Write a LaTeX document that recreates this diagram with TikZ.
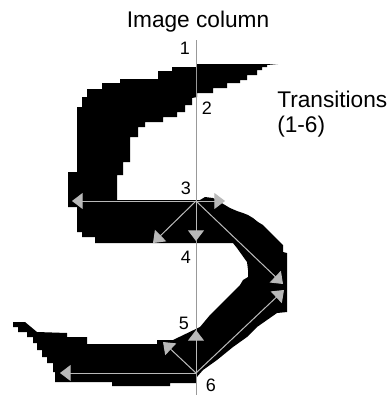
\documentclass[tikz,border=0pt]{standalone}
\usepackage{fontspec}
\setmainfont{Liberation Sans}
\usetikzlibrary{arrows.meta}

\begin{document}
\begin{tikzpicture}[x=0.75pt, y=-0.75pt, >={Triangle[length=8pt, width=12pt]},
  trans/.style={->, draw=gray!55, fill=gray!45, line width=0.75pt},
  digit/.style={inner sep=0pt, font=\fontsize{13.5}{16}\selectfont}]
\useasboundingbox (0,0) rectangle (389,397);
% The scanned digit
\fill [black] (278,64) -- (196,64) -- (196,67) -- (172,67) -- (172,71) -- (158,71)
  -- (158,79) -- (120,79) -- (120,83) -- (102,83) -- (102,89) -- (87,89) -- (87,97)
  -- (82,97) -- (82,107) -- (77,107) -- (77,172) -- (68,172) -- (68,207) -- (77,207)
  -- (77,232) -- (82,232) -- (82,237) -- (95,237) -- (95,243) -- (233,243) -- (237,248)
  -- (242,255) -- (247,262) -- (248,270) -- (248,277) -- (243,280) -- (240,285)
  -- (235,290) -- (230,295) -- (225,300) -- (220,305) -- (215,310) -- (210,315)
  -- (200,327) -- (173,340) -- (157,340) -- (157,344) -- (87,344) -- (87,337)
  -- (67,337) -- (67,333) -- (37,332) -- (25,322) -- (13,322) -- (13,327) -- (18,327)
  -- (18,332) -- (27,332) -- (27,337) -- (33,337) -- (33,343) -- (37,343) -- (37,350)
  -- (42,350) -- (42,357) -- (47,357) -- (47,363) -- (53,363) -- (53,372) -- (55,372)
  -- (55,382) -- (112,382) -- (112,386) -- (170,386) -- (170,383) -- (196,383)
  -- (196,378) -- (203,370) -- (217,360) -- (233,347) -- (247,337) -- (257,327)
  -- (267,320) -- (277,313) -- (287,312) -- (287,253) -- (283,252) -- (283,245)
  -- (278,240) -- (273,235) -- (268,230) -- (263,225) -- (258,222) -- (253,218)
  -- (248,215) -- (243,213) -- (237,211) -- (230,208) -- (225,205) -- (220,202)
  -- (213,198) -- (205,197) -- (200,200) -- (117,200) -- (117,175) -- (123,175)
  -- (123,162) -- (130,162) -- (130,137) -- (138,137) -- (138,127) -- (145,127)
  -- (145,122) -- (163,122) -- (163,117) -- (177,117) -- (177,112) -- (185,112)
  -- (185,105) -- (192,105) -- (192,98) -- (197,97) -- (197,93) -- (213,93)
  -- (213,88) -- (227,88) -- (227,83) -- (240,83) -- (240,80) -- (247,80) -- (247,75)
  -- (257,75) -- (257,70) -- (262,70) -- (262,67) -- (267,67) -- (267,65) -- cycle;
% The image column
\coordinate (coltop) at (196,40);
\coordinate (colbot) at (196,395);
\draw [gray!80, line width=0.75pt] (coltop) -- (colbot);
\node [font=\fontsize{17}{19}\selectfont, anchor=base] (title) at (198,27) {Image column};
\node [font=\fontsize{17}{18.75}\selectfont, align=left, anchor=base west, inner sep=0pt]
  (legend) at (277,132) {Transitions\\(1-6)};
% Transition points and their labels
\coordinate (p3) at (196,201);
\coordinate (p6) at (196,373);
\foreach \n/\x/\y in {1/185/48, 2/207/108, 3/186/188, 4/186/257, 5/184/323, 6/211/385} {
  \node [digit] (n\n) at (\x,\y) {\n};
}
% Arrows leaving the transition points
\foreach \tip/\x/\y in {w/72/201, e/225/201, s/196/241, sw/153/243, se/283/284} {
  \coordinate (a3\tip) at (\x,\y);
  \draw [trans] (p3) -- (a3\tip);
}
\foreach \tip/\x/\y in {w/60/373, n/196/330, nw/163/342, ne/284/290} {
  \coordinate (a6\tip) at (\x,\y);
  \draw [trans] (p6) -- (a6\tip);
}
\end{tikzpicture}
\end{document}
